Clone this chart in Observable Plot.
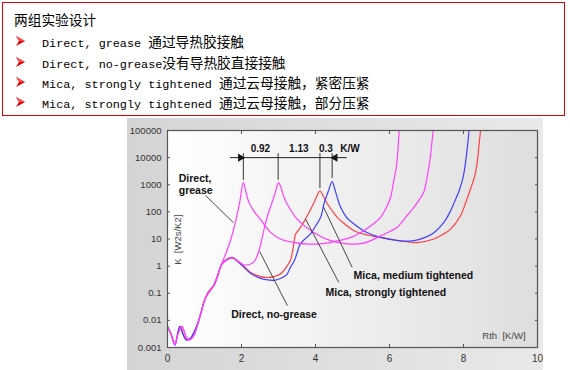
<!DOCTYPE html>
<html><head><meta charset="utf-8">
<script src="https://cdn.jsdelivr.net/npm/d3@7"></script>
<script src="https://cdn.jsdelivr.net/npm/@observablehq/plot@0.6"></script>
<style>
html,body{margin:0;padding:0;background:#fff;width:570px;height:370px;overflow:hidden;}
#box{position:absolute;left:2px;top:2px;width:561px;height:112px;border:1.5px solid #e00000;}
.ln{position:absolute;white-space:pre;font-family:"Noto Sans CJK SC",sans-serif;font-size:13.7px;line-height:16px;color:#000;}
.lat{font-family:"Liberation Mono",monospace;font-size:11.8px;}
.bul{position:absolute;left:13px;}
#panel{position:absolute;left:127px;top:118px;width:416px;height:252px;background:linear-gradient(to right,#d4d4d4,#e9e9e9);}
#chart{position:absolute;left:127px;top:118px;}
</style></head>
<body>
<div id="box"></div>
<div id="panel"></div>
<div id="chart"></div>
<script>
// ---- text of the header box ----
const headerTitle = "两组实验设计";
const bulletLatin = ["Direct, grease ", "Direct, no-grease", "Mica, strongly tightened ", "Mica, strongly tightened "];
const bulletCJK = ["通过导热胶接触", "没有导热胶直接接触", "通过云母接触，紧密压紧", "通过云母接触，部分压紧"];

// ---- chart data: [Rth (K/W), K (W2s/K2)] ----
const directGrease = [[0,0.006],[0.1,0.003],[0.2,0.0013],[0.28,0.003],[0.39,0.006],[0.5,0.0025],[0.58,0.0019],[0.7,0.0026],[0.8,0.006],[0.9,0.018],[0.99,0.05],[1.08,0.09],[1.16,0.13],[1.25,0.19],[1.34,0.38],[1.42,0.8],[1.5,1.6],[1.58,3],[1.7,8.6],[1.84,45],[1.95,220],[2.05,1200],[2.12,550],[2.2,224],[2.35,100],[2.5,55],[2.78,18],[3.05,10],[3.4,7.5],[3.8,6.5],[4.2,6.8],[4.6,8.5],[5.0,12],[5.3,20],[5.55,35],[5.76,63],[5.92,150],[6.03,345],[6.12,1500],[6.18,4000],[6.22,14000],[6.26,100000]];
const directNoGrease = [[0,0.006],[0.1,0.003],[0.2,0.0013],[0.28,0.003],[0.39,0.006],[0.5,0.0025],[0.58,0.0019],[0.7,0.0026],[0.8,0.006],[0.9,0.018],[0.99,0.05],[1.08,0.09],[1.16,0.13],[1.25,0.19],[1.34,0.38],[1.47,1.2],[1.6,1.7],[1.75,2.0],[1.97,1.3],[2.1,1.1],[2.33,1.4],[2.47,3.7],[2.6,20],[2.7,70],[2.78,147],[2.9,450],[3.0,1200],[3.06,850],[3.15,345],[3.23,200],[3.5,55],[3.96,17],[4.41,8.7],[4.86,6.6],[5.3,7],[5.76,13],[6.21,27],[6.35,45],[6.5,80],[6.66,147],[6.82,300],[6.93,550],[7.02,2000],[7.08,6000],[7.14,30000],[7.18,100000]];
const micaStrongly = [[0,0.006],[0.1,0.003],[0.2,0.0013],[0.27,0.003],[0.34,0.006],[0.43,0.003],[0.5,0.002],[0.62,0.0022],[0.73,0.004],[0.82,0.008],[0.9,0.018],[0.99,0.05],[1.08,0.1],[1.16,0.14],[1.25,0.2],[1.34,0.4],[1.47,1.2],[1.6,1.8],[1.75,2.1],[1.97,1.3],[2.24,0.6],[2.5,0.42],[2.7,0.38],[2.9,0.42],[3.05,0.51],[3.23,1.0],[3.32,1.6],[3.4,5],[3.46,15],[3.55,22],[3.65,35],[3.73,55],[3.85,110],[3.96,220],[4.05,420],[4.12,600],[4.2,400],[4.32,200],[4.45,110],[4.59,63],[4.8,35],[5.04,20],[5.4,14],[5.76,11.5],[6.3,8.5],[6.75,7.4],[7.2,10],[7.45,15],[7.65,23],[7.92,72],[8.05,200],[8.19,700],[8.3,2000],[8.37,6700],[8.42,30000],[8.46,100000]];
const micaMedium = [[0,0.006],[0.1,0.003],[0.2,0.0012],[0.27,0.003],[0.33,0.006],[0.42,0.003],[0.5,0.0019],[0.62,0.0022],[0.73,0.004],[0.82,0.008],[0.9,0.018],[0.99,0.05],[1.08,0.09],[1.16,0.13],[1.25,0.19],[1.34,0.38],[1.47,1.2],[1.6,1.7],[1.75,2.0],[1.97,1.2],[2.24,0.55],[2.5,0.36],[2.7,0.31],[2.87,0.3],[3.05,0.35],[3.23,0.5],[3.32,0.9],[3.42,1.5],[3.5,3],[3.59,6.6],[3.75,11],[3.86,15],[4.0,30],[4.14,63],[4.23,200],[4.35,600],[4.45,1300],[4.52,700],[4.6,300],[4.68,147],[4.85,60],[5.04,36],[5.4,17],[5.76,11.5],[6.3,8.5],[6.66,8.7],[7.0,12],[7.2,17],[7.47,41],[7.62,90],[7.75,224],[7.9,700],[8.0,2200],[8.1,21000],[8.15,100000]];

// ---- axes ----
const xTicks = [0, 2, 4, 6, 8, 10];
const xInnerTicks = [2, 4, 6, 8];
const yTicks = [0.001, 0.01, 0.1, 1, 10, 100, 1000, 10000, 100000];
const yTickLabels = ["0.001", "0.01", "0.1", "1", "10", "100", "1000", "10000", "100000"];

// ---- annotations (data units) ----
const curveLabels = [
  {x: 0.305, k: 1050, text: "Direct,\ngrease"},
  {x: 1.72, k: 0.017, text: "Direct, no-grease"},
  {x: 5.03, k: 0.45, text: "Mica, medium tightened"},
  {x: 4.27, k: 0.105, text: "Mica, strongly tightened"}
];
const pointerLinks = [
  {x1: 1.03, k1: 400, x2: 1.78, k2: 40},
  {x1: 2.49, k1: 3.5, x2: 3.24, k2: 0.035},
  {x1: 4.22, k1: 147, x2: 4.99, k2: 0.9},
  {x1: 3.73, k1: 55, x2: 4.63, k2: 0.25}
];
const peakMarks = [
  {x: 2.05, k1: 14000, k2: 1450},
  {x: 2.99, k1: 14000, k2: 1450},
  {x: 4.12, k1: 14000, k2: 720},
  {x: 4.45, k1: 14000, k2: 1700}
];
const dimLine = [{x1: 1.70, x2: 4.86, k: 10000}];
const arrowHeads = [{x: 1.97, k: 10000, rot: 90}, {x: 4.53, k: 10000, rot: -90}];
const dimLabels = [
  {x: 2.51, k: 21500, text: "0.92"},
  {x: 3.55, k: 21500, text: "1.13"},
  {x: 4.28, k: 21500, text: "0.3"},
  {x: 4.93, k: 21500, text: "K/W"}
];
const axisNames = [
  {x: 9.68, k: 0.0027, text: "Rth\u00a0\u00a0[K/W]"},
  {x: 0.27, k: 9.4, text: "K\u00a0\u00a0[W2s/K2]"}
];

// ---- header box ----
const box = document.getElementById("box");
const lineCenters = [40, 60.5, 81, 101];
const t = document.createElement("div");
t.className = "ln"; t.style.left = "11px"; t.style.top = (18 - 2 - 8) + "px";
t.textContent = headerTitle; box.appendChild(t);
bulletLatin.forEach((lat, i) => {
  const c = lineCenters[i] - 2;
  const d = document.createElement("div");
  d.className = "ln"; d.style.left = "39px"; d.style.top = (c - 8) + "px";
  const s = document.createElement("span"); s.className = "lat"; s.textContent = lat;
  const s2 = document.createElement("span"); s2.textContent = bulletCJK[i];
  d.appendChild(s); d.appendChild(s2); box.appendChild(d);
  const b = document.createElementNS("http://www.w3.org/2000/svg", "svg");
  b.setAttribute("class", "bul"); b.setAttribute("width", "10"); b.setAttribute("height", "10");
  b.style.top = (c - 5) + "px";
  b.innerHTML = '<polygon points="0,0 9,5 0,10 3,5" fill="#e00000"/><polygon points="0,0 9,5 3,5" fill="#ff5050"/>';
  box.appendChild(b);
});

// ---- chart ----
const pts = (arr) => arr.map(([x, k]) => ({x, k}));
const common = {x: "x", y: "k", curve: "catmull-rom", strokeWidth: 1.2, clip: true};
const svg = Plot.plot({
  width: 416, height: 252,
  marginLeft: 40, marginRight: 6, marginTop: 12, marginBottom: 23,
  x: {domain: [0, 10]},
  y: {type: "log", domain: [0.001, 100000]},
  style: {background: "transparent", fontFamily: "'Liberation Sans', Arial, sans-serif", fontSize: "9.5px", color: "#333"},
  marks: [
    Plot.frame({fill: "url(#plotbg)"}),
    Plot.line(pts(micaStrongly), {...common, stroke: "#ff4040"}),
    Plot.line(pts(micaMedium), {...common, stroke: "#4040ff"}),
    Plot.line(pts(directNoGrease), {...common, stroke: "#ff40ff"}),
    Plot.line(pts(directGrease), {...common, stroke: "#ff40ff"}),
    Plot.link(pointerLinks, {x1: "x1", y1: "k1", x2: "x2", y2: "k2", stroke: "#333", strokeWidth: 0.9}),
    Plot.ruleX(peakMarks, {x: "x", y1: "k1", y2: "k2", stroke: "#333", strokeWidth: 1}),
    Plot.ruleY(dimLine, {y: "k", x1: "x1", x2: "x2", stroke: "#222", strokeWidth: 1}),
    Plot.dot(arrowHeads, {x: "x", y: "k", symbol: "triangle", rotate: "rot", r: 3, fill: "#111", stroke: "none"}),
    Plot.text(dimLabels, {x: "x", y: "k", text: "text", fontWeight: "bold", fontSize: 10, fill: "#111"}),
    Plot.text(curveLabels, {x: "x", y: "k", text: "text", textAnchor: "start", fontWeight: "bold", fontSize: 10.5, fill: "#111", lineHeight: 1.1}),
    Plot.text(axisNames.slice(0, 1), {x: "x", y: "k", text: "text", textAnchor: "end", fontSize: 9.5, fill: "#444"}),
    Plot.text(axisNames.slice(1), {x: "x", y: "k", text: "text", rotate: -90, fontSize: 9.5, fill: "#444"}),
    Plot.axisX(xTicks, {anchor: "bottom", tickSize: 0, tickPadding: 7, label: null, fontSize: 10}),
    Plot.axisX(xInnerTicks, {anchor: "bottom", tickSize: -3, tickFormat: () => "", label: null, stroke: "#555"}),
    Plot.axisX(xInnerTicks, {anchor: "top", tickSize: -3, tickFormat: () => "", label: null, stroke: "#555"}),
    Plot.axisY(yTicks, {anchor: "left", tickSize: 0, tickPadding: 6, tickFormat: (d) => yTickLabels[yTicks.indexOf(d)], label: null}),
    Plot.axisY(yTicks, {anchor: "left", tickSize: -3, tickFormat: () => "", label: null, stroke: "#555"}),
    Plot.axisY(yTicks, {anchor: "right", tickSize: -3, tickFormat: () => "", label: null, stroke: "#555"}),
    Plot.frame({stroke: "#555", strokeWidth: 1.2})
  ]
});
const ns = "http://www.w3.org/2000/svg";
const defs = document.createElementNS(ns, "defs");
defs.innerHTML = '<linearGradient id="plotbg" x1="0" x2="1" y1="0" y2="0"><stop offset="0" stop-color="#ffffff"/><stop offset="1" stop-color="#dedede"/></linearGradient>';
svg.insertBefore(defs, svg.firstChild);
document.getElementById("chart").appendChild(svg);
</script>
</body></html>
